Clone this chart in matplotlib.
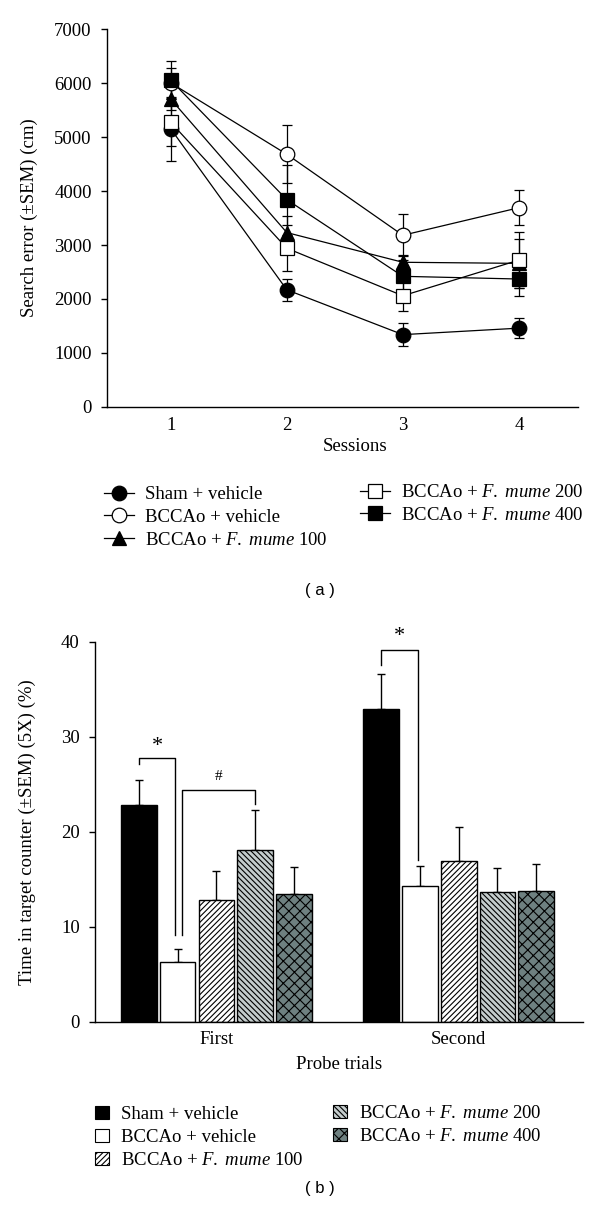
import numpy as np
import matplotlib
matplotlib.use('Agg')
import matplotlib.pyplot as plt
from matplotlib.patches import Patch

plt.rcParams['font.family'] = 'Liberation Serif'
plt.rcParams['mathtext.fontset'] = 'custom'
plt.rcParams['mathtext.rm'] = 'Liberation Serif'
plt.rcParams['mathtext.it'] = 'Liberation Serif:italic'
plt.rcParams['hatch.linewidth'] = 0.8

# ---- data, panel (a) ----
sessions = [1, 2, 3, 4]
sham_mean = [5150, 2170, 1340, 1460]
sham_sem = [590, 205, 210, 180]
veh_mean = [6000, 4680, 3180, 3690]
veh_sem = [270, 540, 390, 320]
fm100_mean = [5700, 3230, 2680, 2660]
fm100_sem = [200, 300, 130, 450]
fm200_mean = [5270, 2940, 2060, 2720]
fm200_sem = [430, 430, 290, 520]
fm400_mean = [6050, 3840, 2420, 2370]
fm400_sem = [350, 650, 300, 320]

# ---- data, panel (b) ----
trials = ['First', 'Second']
bar_sham = [22.8, 32.9]
bar_veh = [6.3, 14.3]
bar_100 = [12.8, 16.9]
bar_200 = [18.1, 13.7]
bar_400 = [13.4, 13.8]
err_sham = [2.6, 3.7]
err_veh = [1.4, 2.1]
err_100 = [3.1, 3.6]
err_200 = [4.2, 2.5]
err_400 = [2.9, 2.8]

labels = ['Sham + vehicle', 'BCCAo + vehicle',
          r'BCCAo + $\mathit{F.\ mume}$ 100',
          r'BCCAo + $\mathit{F.\ mume}$ 200',
          r'BCCAo + $\mathit{F.\ mume}$ 400']

W, H = 600, 1223
fig = plt.figure(figsize=(6.0, 12.23), dpi=100)

# ================= panel (a) =================
ax = fig.add_axes([107 / W, 1 - 407 / H, 471 / W, 378 / H])
series = [(sham_mean, sham_sem, 'o', 'black'),
          (veh_mean, veh_sem, 'o', 'white'),
          (fm100_mean, fm100_sem, '^', 'black'),
          (fm200_mean, fm200_sem, 's', 'white'),
          (fm400_mean, fm400_sem, 's', 'black')]
handles = []
for (m, s, mk, fc), lab in zip(series, labels):
    ax.errorbar(sessions, m, yerr=s, fmt='none', ecolor='black',
                elinewidth=0.9, capsize=3.5, capthick=0.9, zorder=2)
    h, = ax.plot(sessions, m, color='black', lw=0.9, marker=mk, ms=10.5,
                 mfc=fc, mec='black', mew=0.9, zorder=3, label=lab)
    handles.append(h)

ax.set_xlim(0.45, 4.51)
ax.set_ylim(0, 7000)
ax.set_yticks(range(0, 7001, 1000))
ax.set_xticks(sessions)
ax.spines['top'].set_visible(False)
ax.spines['right'].set_visible(False)
ax.spines['left'].set_linewidth(1.0)
ax.spines['bottom'].set_linewidth(1.0)
ax.tick_params(axis='y', direction='out', length=4, width=1.0, pad=7, labelsize=13.5)
ax.tick_params(axis='x', length=0, pad=7, labelsize=13.5)
ax.set_ylabel('Search error (±SEM) (cm)', fontsize=13.5)
ax.yaxis.set_label_coords(-0.147, 0.5)
ax.set_xlabel('Sessions', fontsize=13.5)
ax.xaxis.set_label_coords(0.526, -0.082)

leg_kw = dict(frameon=False, fontsize=13.5, loc='upper left', borderpad=0,
              borderaxespad=0, handlelength=1.6, handletextpad=0.6,
              labelspacing=0.3)
fig.legend(handles[:3], labels[:3], bbox_to_anchor=(104 / W, 1 - 486 / H), **leg_kw)
fig.legend(handles[3:], labels[3:], bbox_to_anchor=(360 / W, 1 - 484 / H), **leg_kw)
fig.text(320 / W, 1 - 590 / H, '( a )', ha='center', va='center',
         family='Liberation Sans', fontsize=12)

# ================= panel (b) =================
bx = fig.add_axes([95 / W, 1 - 1021.7 / H, 488 / W, 380 / H])
x = np.arange(len(trials))
width = 0.147
step = 0.16
bar_sets = [(bar_sham, err_sham, 'black', ''),
            (bar_veh, err_veh, 'white', ''),
            (bar_100, err_100, 'white', '//////'),
            (bar_200, err_200, '#c4cccc', '\\\\\\\\\\\\'),
            (bar_400, err_400, '#6e8080', 'xxx')]
patches = []
for i, ((vals, errs, fc, hatch), lab) in enumerate(zip(bar_sets, labels)):
    pos = x + (i - 2) * step
    bx.bar(pos, vals, width, color=fc, edgecolor='black', linewidth=1.0,
           hatch=hatch, zorder=2)
    bx.errorbar(pos, vals, yerr=[np.zeros(len(errs)), errs], fmt='none',
                ecolor='black', elinewidth=1.0, capsize=3, capthick=1.0, zorder=1)
    patches.append(Patch(facecolor=fc, edgecolor='black', hatch=hatch,
                         linewidth=0.8, label=lab))

bx.set_xlim(-0.501, 1.513)
bx.set_ylim(0, 40)
bx.set_yticks(range(0, 41, 10))
bx.set_xticks(x)
bx.set_xticklabels(trials)
bx.spines['top'].set_visible(False)
bx.spines['right'].set_visible(False)
bx.spines['left'].set_linewidth(1.0)
bx.spines['bottom'].set_linewidth(1.0)
bx.tick_params(axis='y', direction='out', length=4, width=1.0, pad=7, labelsize=13.5)
bx.tick_params(axis='x', length=0, pad=7, labelsize=13.5)
bx.set_ylabel('Time in target counter (±SEM) (5X) (%)', fontsize=13.5)
bx.yaxis.set_label_coords(-0.12, 0.5)
bx.set_xlabel('Probe trials', fontsize=13.5)
bx.xaxis.set_label_coords(0.5, -0.09)

# significance brackets
def bracket(x0, y0, x1, y1, top, text, ty, fs):
    bx.plot([x0, x0, x1, x1], [y0, top, top, y1], color='black', lw=1.0,
            clip_on=False, zorder=3)
    bx.text((x0 + x1) / 2, ty, text, ha='center', va='center', fontsize=fs,
            clip_on=False)

bracket(x[0] - 2 * step, 27.1, x[0] - step - 0.01, 9.1, 27.75, '*', 29.0, 16)
bracket(x[0] - step + 0.02, 9.1, x[0] + step, 22.9, 24.4, '#', 25.8, 11)
bracket(x[1] - 2 * step, 37.6, x[1] - step - 0.01, 17.0, 39.1, '*', 40.6, 16)

leg_kw2 = dict(frameon=False, fontsize=13.5, loc='upper left', borderpad=0,
               borderaxespad=0, handlelength=0.72, handleheight=0.72,
               handletextpad=0.65, labelspacing=0.3)
fig.legend(patches[:3], labels[:3], bbox_to_anchor=(95 / W, 1 - 1106 / H), **leg_kw2)
fig.legend(patches[3:], labels[3:], bbox_to_anchor=(333 / W, 1 - 1105 / H), **leg_kw2)
fig.text(320 / W, 1 - 1188 / H, '( b )', ha='center', va='center',
         family='Liberation Sans', fontsize=12)

fig.savefig('out.png', dpi=100)
